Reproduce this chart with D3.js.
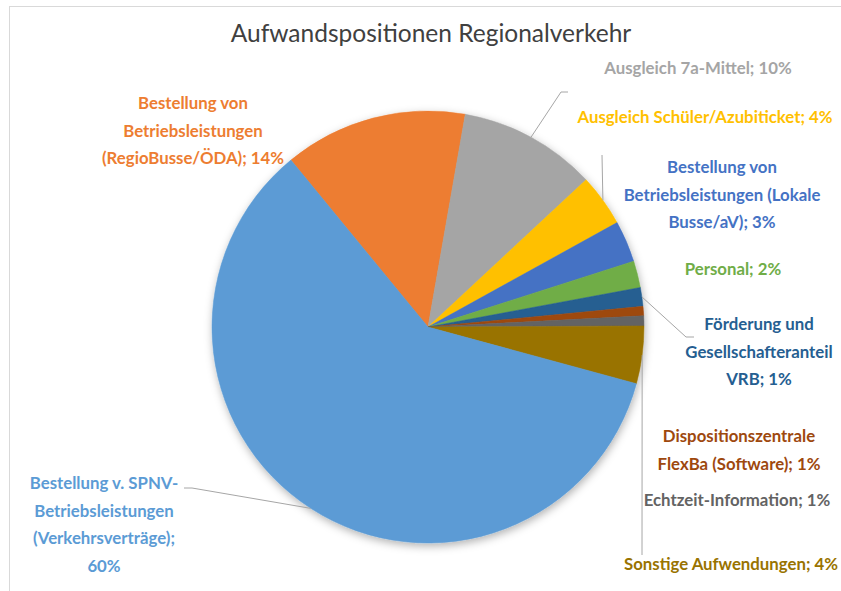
<!DOCTYPE html>
<html>
<head>
<meta charset="utf-8">
<script src="https://cdn.jsdelivr.net/npm/d3@7"></script>
<style>
  body { margin: 0; background: #fff; }
  svg { display: block; }
</style>
</head>
<body>
<svg width="841" height="591"></svg>
<script>
// Daten (Anteile in %), Reihenfolge im Uhrzeigersinn ab Orange
let labels = [
	['Bestellung von', 'Betriebsleistungen', '(RegioBusse/ÖDA); 14%'],
	['Ausgleich 7a-Mittel; 10%'],
	['Ausgleich Schüler/Azubiticket; 4%'],
	['Bestellung von', 'Betriebsleistungen (Lokale', 'Busse/aV); 3%'],
	['Personal; 2%'],
	['Förderung und', 'Gesellschafteranteil', 'VRB; 1%'],
	['Dispositionszentrale', 'FlexBa (Software); 1%'],
	['Echtzeit-Information; 1%'],
	['Sonstige Aufwendungen; 4%'],
	['Bestellung v. SPNV-', 'Betriebsleistungen', '(Verkehrsverträge);', '60%']
];
let values = [13.7, 10.3, 3.9, 3.1, 2.0, 1.4, 0.7, 0.75, 4.3, 59.8];
let colors = ['#ED7D31', '#A5A5A5', '#FFC000', '#4472C4', '#70AD47',
	'#255E91', '#9E480E', '#636363', '#997300', '#5B9BD5'];

// Beschriftungs-Layout: Mittelpunkt der Beschriftung, Knickpunkte der Führungslinie
let labelPos = [
	{ x: 193, y: 102, line: null },
	{ x: 698, y: 67, line: [[561, 92], [568, 92]] },
	{ x: 705, y: 116, line: [[602, 155]] },
	{ x: 722, y: 166, line: null },
	{ x: 733, y: 268, line: null },
	{ x: 759, y: 323, line: [[686, 337], [694, 337]] },
	{ x: 739, y: 435, line: null },
	{ x: 737, y: 499, line: null },
	{ x: 731, y: 563, line: [[642, 555]] },
	{ x: 104, y: 482, line: [[192, 488], [184, 488]] }
];

let svg = d3.select('svg');

let cx = 428;
let cy = 327;
let radius = 216;
let startDeg = -39.4;

// Rahmen des Diagrammbereichs
svg.append('rect')
	.attr('x', 9.5)
	.attr('y', 6.5)
	.attr('width', 900)
	.attr('height', 700)
	.attr('fill', 'none')
	.attr('stroke', '#d9d9d9')
	.attr('stroke-width', 1);

let defs = svg.append('defs');
let filter = defs.append('filter')
	.attr('id', 'shadow')
	.attr('x', '-10%').attr('y', '-10%')
	.attr('width', '120%').attr('height', '120%');
filter.append('feDropShadow')
	.attr('dx', 1)
	.attr('dy', 3)
	.attr('stdDeviation', 4)
	.attr('flood-color', '#000')
	.attr('flood-opacity', 0.3);

svg.append('text')
	.attr('x', 431)
	.attr('y', 42)
	.attr('text-anchor', 'middle')
	.style('font-family', 'Lato, sans-serif')
	.style('font-size', '24.5px')
	.style('fill', '#404040')
	.text('Aufwandspositionen Regionalverkehr');

let data = values.map((v, i) => ({ value: v, label: labels[i], color: colors[i], pos: labelPos[i] }));

let start = startDeg * Math.PI / 180;
let pie = d3.pie()
	.sort(null)
	.value(d => d.value)
	.startAngle(start)
	.endAngle(start + 2 * Math.PI);

let arc = d3.arc()
	.innerRadius(0)
	.outerRadius(radius);

let arcs = pie(data);

let chart = svg.append('g')
	.attr('transform', 'translate(' + cx + ', ' + cy + ')');

chart.append('g')
	.attr('filter', 'url(#shadow)')
	.selectAll('path')
	.data(arcs)
	.enter()
	.append('path')
	.attr('d', arc)
	.attr('fill', d => d.data.color)
	.attr('stroke', d => d.data.color)
	.attr('stroke-width', 0.5);

// Führungslinien
arcs.forEach(function(d) {
	if (!d.data.pos.line) return;
	let mid = (d.startAngle + d.endAngle) / 2;
	let p0 = [cx + radius * Math.sin(mid), cy - radius * Math.cos(mid)];
	let pts = [p0].concat(d.data.pos.line);
	svg.append('path')
		.attr('d', d3.line()(pts))
		.attr('fill', 'none')
		.attr('stroke', '#a6a6a6')
		.attr('stroke-width', 1);
});

// Beschriftungen
let lineHeight = 27.5;
arcs.forEach(function(d) {
	let t = svg.append('text')
		.attr('text-anchor', 'middle')
		.attr('dominant-baseline', 'central')
		.style('font-family', 'Lato, sans-serif')
		.style('font-weight', 'bold')
		.style('font-size', '16.8px')
		.style('fill', d.data.color);
	d.data.label.forEach(function(l, i) {
		t.append('tspan')
			.attr('x', d.data.pos.x)
			.attr('y', d.data.pos.y + i * lineHeight)
			.text(l);
	});
});
</script>
</body>
</html>
